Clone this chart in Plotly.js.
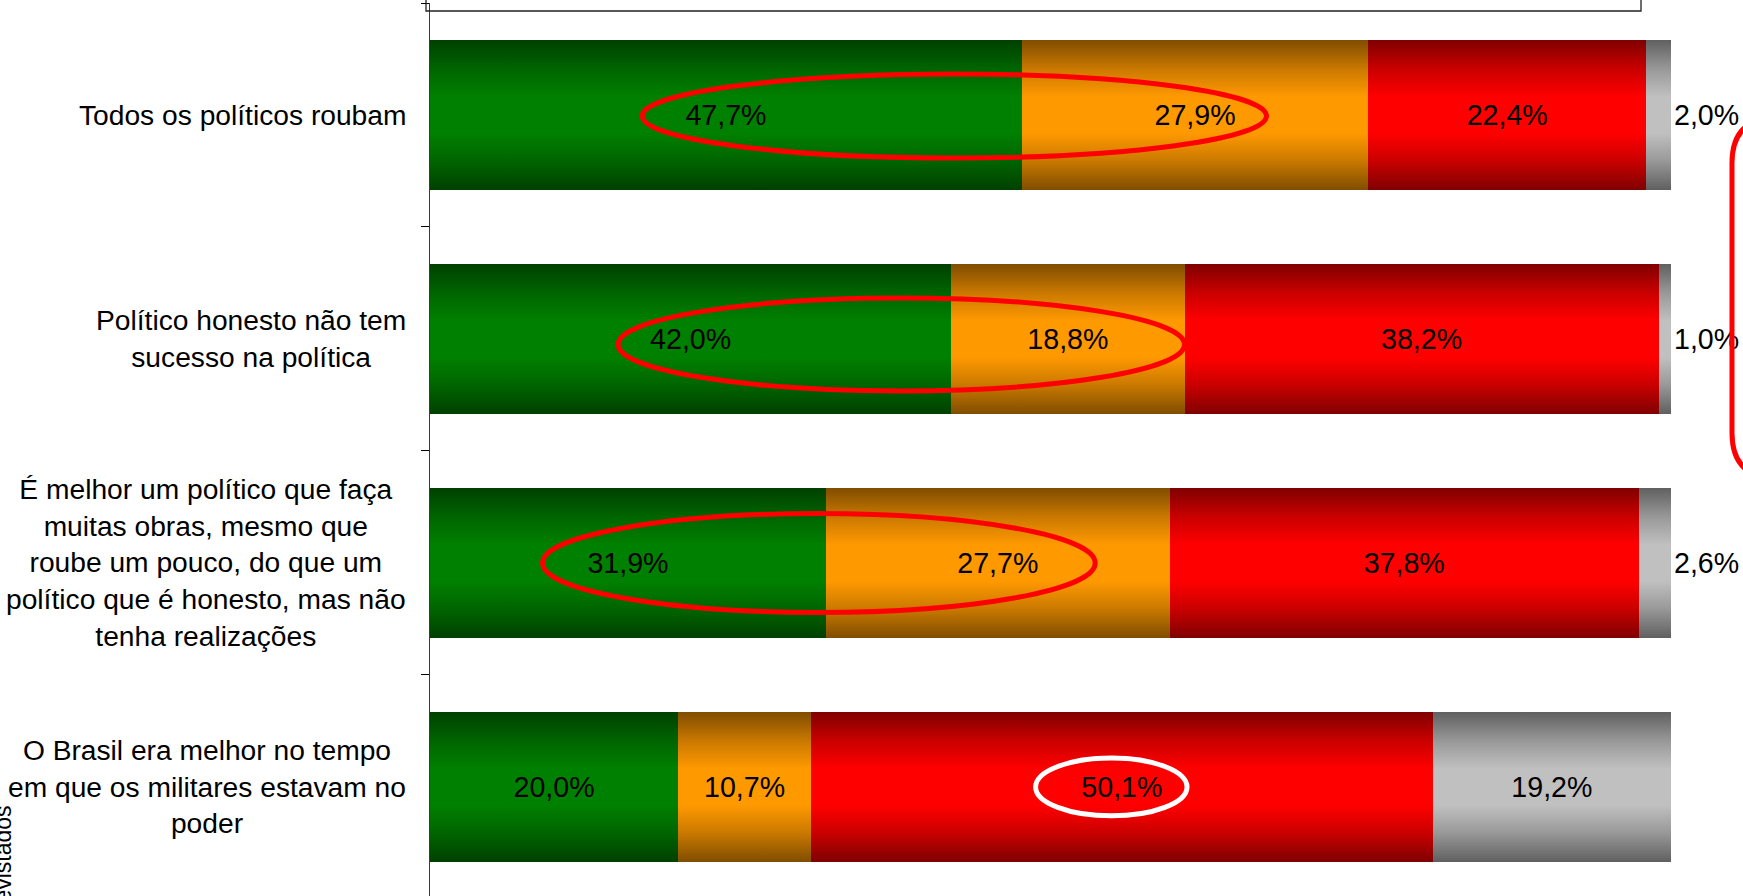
<!DOCTYPE html>
<html>
<head>
<meta charset="utf-8">
<script src="https://cdn.plot.ly/plotly-3.0.1.min.js"></script>
<style>
html,body{margin:0;padding:0;background:#fff;overflow:hidden}
#chart{width:1743px;height:896px}
</style>
</head>
<body>
<div id="chart"></div>
<script>
// ---------- data ----------
const categories = [
  'Todos os políticos roubam',
  'Político honesto não tem<br>sucesso na política',
  'É melhor um político que faça<br>muitas obras, mesmo que<br>roube um pouco, do que um<br>político que é honesto, mas não<br>tenha realizações',
  'O Brasil era melhor no tempo<br>em que os militares estavam no<br>poder'
];
const seriesNames = ['Concorda totalmente', 'Concorda em parte', 'Discorda', 'Não sabe / Não respondeu'];
const concordaTotal = [47.7, 42.0, 31.9, 20.0];
const concordaParte = [27.9, 18.8, 27.7, 10.7];
const discorda      = [22.4, 38.2, 37.8, 50.1];
const naoSabe       = [2.0, 1.0, 2.6, 19.2];
const yAxisTitle = '% de entrevistados';

// ---------- styles ----------
const FONT = 'Liberation Sans, Arial, Helvetica, sans-serif';
const FS = 28.6;
const FS_LABEL = 28.2;
const baseColors = ['#008000', '#FF9900', '#FF0000', '#C0C0C0'];
const series = [concordaTotal, concordaParte, discorda, naoSabe];
const textPositions = [
  'inside', 'inside', 'inside',
  ['outside', 'outside', 'outside', 'inside']
];

const fmt = v => v.toFixed(1).replace('.', ',') + '%';

const traces = series.map((vals, i) => ({
  type: 'bar',
  orientation: 'h',
  name: seriesNames[i],
  y: categories,
  x: vals,
  text: vals.map(fmt),
  textposition: textPositions[i],
  insidetextanchor: 'middle',
  constraintext: 'none',
  cliponaxis: false,
  textfont: {family: FONT, size: FS, color: '#000'},
  insidetextfont: {family: FONT, size: FS, color: '#000'},
  outsidetextfont: {family: FONT, size: FS, color: '#000'},
  marker: {color: baseColors[i], line: {width: 0}},
  hoverinfo: 'skip'
}));

// pixel helpers for paper-positioned decorations
const W = 1743, H = 896, ML = 430, MR = 72, MT = 3, MB = 0;
const PW = W - ML - MR, PH = H - MT - MB;
const px = x => (x - ML) / PW;
const py = y => (H - MB - y) / PH;

const labelAnnotations = categories.map(c => ({
  xref: 'paper', x: 0, xanchor: 'right', xshift: -22,
  yref: 'y', y: c, yanchor: 'middle',
  text: c, align: 'center', showarrow: false,
  font: {family: FONT, size: FS_LABEL, color: '#000'}
}));

const ellipse = (x0, x1, y0, y1, color) => ({
  type: 'circle', xref: 'x', yref: 'y',
  x0, x1, y0, y1,
  line: {color, width: 5}, fillcolor: 'rgba(0,0,0,0)', layer: 'above'
});

const rr = 45;
const roundPath = `M ${px(1800)} ${py(118)} L ${px(1732 + rr)} ${py(118)} Q ${px(1732)} ${py(118)} ${px(1732)} ${py(118 + rr)} ` +
  `L ${px(1732)} ${py(478 - rr)} Q ${px(1732)} ${py(478)} ${px(1732 + rr)} ${py(478)} L ${px(1800)} ${py(478)}`;

const layout = {
  width: W, height: H,
  margin: {l: ML, r: MR, t: MT, b: MB, pad: 0},
  paper_bgcolor: '#ffffff',
  plot_bgcolor: 'rgba(0,0,0,0)',
  barmode: 'stack',
  bargap: 0.33,
  showlegend: false,
  font: {family: FONT, size: FS, color: '#000'},
  xaxis: {range: [0, 100], visible: false, fixedrange: true},
  yaxis: {
    type: 'category', categoryorder: 'array', categoryarray: categories,
    range: [3.487, -0.5], fixedrange: true,
    showline: true, linecolor: '#3a3a3a', linewidth: 1,
    ticks: 'outside', ticklen: 8, tickcolor: '#000', tickwidth: 1,
    tickson: 'boundaries', showticklabels: false,
    showgrid: false, zeroline: false
  },
  shapes: [
    // legend frame (cropped at top)
    {type: 'rect', xref: 'paper', yref: 'paper', x0: px(426), x1: px(1641), y0: py(11), y1: py(-20),
     line: {color: '#222', width: 1.3}, fillcolor: 'rgba(0,0,0,0)'},
    ellipse(17.1, 67.4, -0.183, 0.192, '#FF0000'),
    ellipse(15.15, 60.8, 0.817, 1.232, '#FF0000'),
    ellipse(9.07, 53.6, 1.779, 2.221, '#FF0000'),
    ellipse(48.8, 61.0, 2.871, 3.129, '#FFFFFF'),
    {type: 'path', xref: 'paper', yref: 'paper', path: roundPath,
     line: {color: '#FF0000', width: 5}, fillcolor: 'rgba(0,0,0,0)'}
  ],
  annotations: labelAnnotations.concat([{
    xref: 'paper', x: px(3), xanchor: 'center',
    yref: 'paper', y: py(803), yanchor: 'top',
    textangle: -90, text: yAxisTitle, showarrow: false,
    font: {family: FONT, size: 23, color: '#000'}
  }])
};

function hexToRgb(h) {
  const n = parseInt(h.slice(1), 16);
  return [(n >> 16) & 255, (n >> 8) & 255, n & 255];
}
function applyGradients(gd) {
  const svg = gd.querySelector('.main-svg');
  if (!svg) return;
  const NS = 'http://www.w3.org/2000/svg';
  let defs = svg.querySelector('defs');
  if (!defs) { defs = document.createElementNS(NS, 'defs'); svg.insertBefore(defs, svg.firstChild); }
  baseColors.forEach((c, i) => {
    const id = 'bargrad' + i;
    if (svg.querySelector('#' + id)) return;
    const [r, g, b] = hexToRgb(c);
    const dark = `rgb(${Math.round(r * 0.5)},${Math.round(g * 0.5)},${Math.round(b * 0.5)})`;
    const mid = `rgb(${Math.round(r * 0.8)},${Math.round(g * 0.8)},${Math.round(b * 0.8)})`;
    const lg = document.createElementNS(NS, 'linearGradient');
    lg.setAttribute('id', id);
    lg.setAttribute('x1', '0'); lg.setAttribute('y1', '0');
    lg.setAttribute('x2', '0'); lg.setAttribute('y2', '1');
    [[0, dark], [0.2, mid], [0.38, c], [0.62, c], [0.8, mid], [1, dark]].forEach(([o, col]) => {
      const s = document.createElementNS(NS, 'stop');
      s.setAttribute('offset', o);
      s.setAttribute('stop-color', col);
      lg.appendChild(s);
    });
    defs.appendChild(lg);
  });
  gd.querySelectorAll('.barlayer .trace.bars').forEach((t, i) => {
    t.querySelectorAll('.point path').forEach(p => { p.style.fill = `url(#bargrad${i})`; });
  });
}

const gd = document.getElementById('chart');
Plotly.newPlot(gd, traces, layout, {displayModeBar: false, staticPlot: true}).then(() => {
  applyGradients(gd);
  gd.on && gd.on('plotly_afterplot', () => applyGradients(gd));
});
</script>
</body>
</html>
